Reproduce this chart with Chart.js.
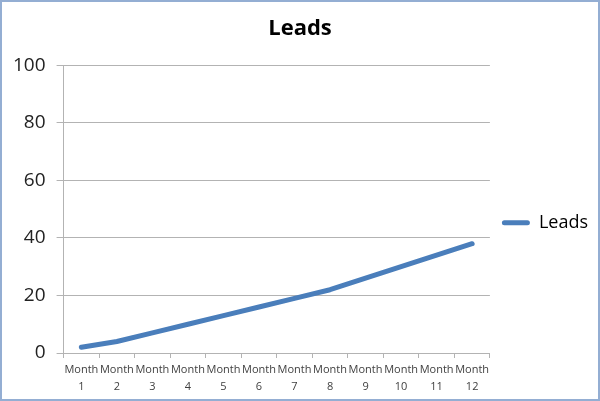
<!DOCTYPE html>
<html>
<head>
<meta charset="utf-8">
<script src="https://cdn.jsdelivr.net/npm/chart.js@4"></script>
<style>
  html, body { margin: 0; padding: 0; background: #fff; }
  #wrap { width: 600px; height: 401px; box-sizing: border-box; border: 2px solid #94aed3; position: relative; }
  #myChart { position: absolute; left: 0; top: 0; }
</style>
</head>
<body>
<div id="wrap"><canvas id="myChart" width="596" height="397"></canvas></div>
<script>
const months = ['Month 1', 'Month 2', 'Month 3', 'Month 4', 'Month 5', 'Month 6',
  'Month 7', 'Month 8', 'Month 9', 'Month 10', 'Month 11', 'Month 12'];
const leads = [2, 4, 7, 10, 13, 16, 19, 22, 26, 30, 34, 38];
const yTicks = [0, 20, 40, 60, 80, 100];

const lineColor = '#4a7ebb';
const gridColor = '#b3b3b3';

const ctx = document.getElementById('myChart');

const data = {
  labels: months.map(m => m.split(' ')),
  datasets: [
    {
      label: 'Leads',
      data: leads,
      borderColor: lineColor,
      backgroundColor: lineColor,
      borderWidth: 5,
      borderCapStyle: 'round',
      borderJoinStyle: 'round',
      tension: 0,
      pointRadius: 0
    }
  ]
};

const config = {
  type: 'line',
  data: data,
  options: {
    responsive: false,
    animation: false,
    layout: { padding: { left: 0, right: 0, top: 6, bottom: 0 } },
    plugins: {
      title: {
        display: true,
        text: 'Leads',
        color: '#000',
        font: { family: 'Open Sans', size: 22, weight: 'bold' },
        padding: { top: 8, bottom: 23 }
      },
      legend: {
        position: 'right',
        // blank title just nudges the entry down to where the original sits
        title: { display: true, text: ' ', font: { size: 17 }, padding: 9 },
        labels: {
          boxWidth: 28,
          boxHeight: 5,
          padding: 12,
          color: '#000',
          font: { family: 'Open Sans', size: 18 },
          generateLabels: chart =>
            Chart.defaults.plugins.legend.labels.generateLabels(chart).map(l => ({
              ...l, lineWidth: 0, fillStyle: lineColor, borderRadius: 2.5
            }))
        }
      },
      tooltip: { enabled: false }
    },
    scales: {
      x: {
        offset: true,
        grid: { display: true, drawOnChartArea: false, offset: true, color: gridColor, tickLength: 5 },
        border: { color: gridColor },
        ticks: {
          autoSkip: false,
          maxRotation: 0,
          color: '#404040',
          padding: 4,
          font: { family: 'Open Sans', size: 11, lineHeight: 1.5 }
        }
      },
      y: {
        min: 0,
        max: 100,
        afterBuildTicks: axis => { axis.ticks = yTicks.map(v => ({ value: v })); },
        grid: { color: gridColor, tickLength: 7 },
        border: { color: gridColor },
        ticks: {
          color: '#222',
          padding: 11,
          font: { family: 'Open Sans', size: 19 }
        }
      }
    }
  }
};

const myChart = new Chart(ctx, config);
</script>
</body>
</html>
